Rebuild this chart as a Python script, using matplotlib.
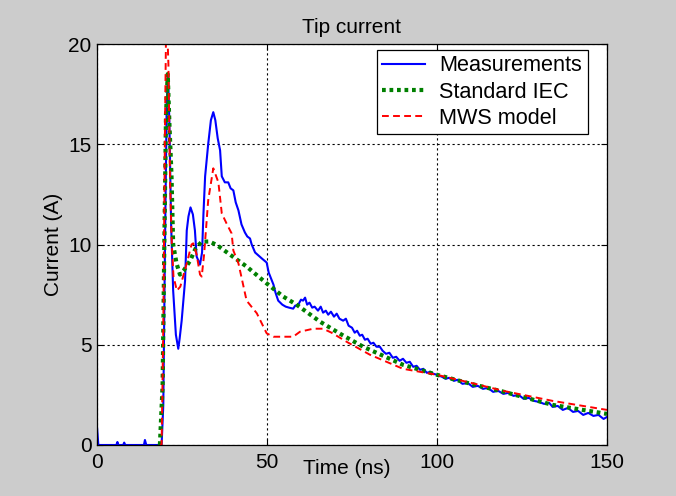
import matplotlib
matplotlib.use("Agg")
import matplotlib.pyplot as plt

# Tip current

# Measurements (ns, A)
t_meas = [0, 0.4, 5.7, 6, 6.3, 7.7, 8, 8.3, 13.8, 14.1, 14.5, 19, 19.5, 20, 20.5, 20.9,
          21.3, 21.8, 22.4, 23.2, 23.9, 24.3, 24.9, 25.9, 26.4, 26.9, 27.5, 28.2, 28.8,
          29.3, 30.3, 30.9, 31.3, 31.8, 32.7, 33.5, 34.2, 34.8, 35.5, 36.2, 36.7, 37.6,
          38.6, 39.3, 40.1, 40.8, 41.6, 42.5, 43.5, 44.2, 45, 45.5, 46.5, 47.5, 48.5,
          49.9, 50.5, 51.2, 51.9, 52.5, 53.3, 54.5, 55.5, 56.5, 57.7, 58.3, 59.2, 60,
          60.6, 61.2, 61.8, 62.5, 63.3, 64, 65, 65.8, 66.5, 67.3, 68, 68.8, 69.7, 70.5,
          71.3, 72.4, 73.2, 74, 75, 75.8, 76.5, 77.3, 78, 78.8, 79.6, 80.5, 81.3, 82.2,
          83.2, 84, 85, 86, 87, 88, 89, 90, 91, 92, 93, 94, 95, 96, 97, 98, 99, 100,
          101.5, 102.5, 103.5, 105, 106, 107.5, 109, 110.5, 112, 113.5, 115, 116.5, 118,
          119.5, 121, 122.5, 124, 125.5, 127, 128.5, 130, 131.5, 133, 134, 135.5, 137,
          138.5, 140, 141.5, 143, 144.5, 146, 147.5, 149, 150]
i_meas = [0.9, 0, 0, 0.15, 0, 0, 0.12, 0, 0, 0.25, 0, 0, 2, 10, 17, 18.5,
          16, 11, 7.7, 5.5, 4.8, 5.3, 6.2, 8.2, 10.7, 11.4, 11.85, 11.5, 10.7,
          9.4, 9.0, 9.6, 11.5, 13.4, 15.0, 16.2, 16.6, 16.2, 15.3, 14.7, 13.4, 13.1,
          13.1, 12.8, 12.7, 12.1, 11.7, 11.0, 10.6, 10.4, 10.3, 10.0, 9.6, 9.45, 9.3,
          9.1, 8.6, 8.3, 8.0, 7.6, 7.2, 7.0, 6.9, 6.85, 6.8, 6.95, 7.0, 7.25,
          7.2, 7.35, 7.0, 7.1, 6.85, 6.9, 6.7, 6.9, 6.6, 6.7, 6.5, 6.65, 6.4, 6.55,
          6.3, 6.2, 6.3, 5.95, 5.85, 5.6, 5.7, 5.45, 5.5, 5.25, 5.3, 5.05, 5.1, 4.9,
          4.9, 4.7, 4.55, 4.6, 4.35, 4.4, 4.2, 4.3, 4.1, 4.15, 3.9, 3.95, 3.75, 3.8, 3.6, 3.65, 3.55, 3.5,
          3.4, 3.3, 3.35, 3.2, 3.25, 3.05, 3.1, 2.9, 2.95, 2.8, 2.85, 2.65, 2.7,
          2.55, 2.6, 2.45, 2.5, 2.3, 2.35, 2.2, 2.15, 2.05, 2.1, 1.9, 1.95, 1.75,
          1.85, 1.65, 1.7, 1.5, 1.6, 1.45, 1.5, 1.3, 1.4]

# Standard IEC
t_iec = [18.5, 19.3, 19.8, 20.3, 20.8, 21.3, 21.9, 22.4, 23.4, 24.4, 25.5, 27.4, 29,
         30.8, 33, 35.2, 38.6, 44, 49.9, 54.8, 58.7, 65.6, 72, 78.3, 90, 100, 110,
         119.5, 134, 150]
i_iec = [0, 3, 10, 16.5, 18.5, 16, 13.5, 10, 9.05, 8.5, 8.7, 9.2, 9.8,
         10.14, 10.15, 9.98, 9.56, 8.9, 8.06, 7.4, 7.0, 6.15, 5.5, 4.9, 4.0, 3.5, 3.05,
         2.66, 2.0, 1.55]

# MWS model
t_mws = [18.5, 19, 19.5, 20, 20.4, 21, 21.5, 22, 22.5, 23.5, 24.5, 26.4, 27.8, 28.3,
         29.3, 30.3, 30.8, 31.5, 32.7, 34.2, 35.7, 36.7, 38.1, 39.6, 40.1, 41.6, 44,
         47, 49.9, 51.9, 57.7, 59.7, 63.6, 66.5, 69, 73.4, 80.3, 90, 100, 110, 119.5,
         134, 150]
i_mws = [0, 0, 6, 16, 22, 19, 13, 10, 8.4, 7.7, 7.9, 9.06, 10.0, 10.06,
         9.5, 8.5, 8.4, 9.5, 12.2, 13.8, 13.1, 11.55, 11.05, 10.55, 9.7, 9.06, 7.2,
         6.57, 5.57, 5.4, 5.4, 5.65, 5.8, 5.8, 5.6, 5.15, 4.5, 3.8, 3.5, 3.1, 2.7,
         2.2, 1.75]

x_ticks = [0, 50, 100, 150]
y_ticks = [0, 5, 10, 15, 20]

plt.rcParams['font.family'] = ['Liberation Sans', 'DejaVu Sans']

fig = plt.figure(figsize=(6.76, 4.96), dpi=100)
fig.patch.set_facecolor('#cccccc')
ax = fig.add_axes([97 / 676, 1 - 445 / 496, 510 / 676, 401 / 496])
ax.set_facecolor('white')

ax.plot(t_meas, i_meas, color='#0000ff', lw=1.5, label='Measurements')
ax.plot(t_iec, i_iec, color='#008000', lw=3, linestyle=(0, (0.9, 0.9)),
        label='Standard IEC')
ax.plot(t_mws, i_mws, color='#ff0000', lw=1.4, linestyle=(0, (3.5, 2.2)),
        label='MWS model')

ax.set_xlim(0, 150)
ax.set_ylim(0, 20)
ax.set_xticks(x_ticks)
ax.set_yticks(y_ticks)
ax.tick_params(direction='in', length=4, width=0.8, labelsize=15, pad=4,
               top=True, right=True, colors='black')
ax.tick_params(axis='x', pad=5.5)
ax.grid(True, color='black', linestyle=(0, (2, 2.5)), lw=0.8)
for s in ax.spines.values():
    s.set_linewidth(0.9)

ax.set_title('Tip current', fontsize=15, pad=8)
ax.set_xlabel('Time (ns)', fontsize=15)
ax.set_ylabel('Current (A)', fontsize=15)
ax.xaxis.set_label_coords(0.49, -0.035)
ax.yaxis.set_label_coords(-0.066, 0.5)

leg = ax.legend(loc='upper right', bbox_to_anchor=(0.962, 0.985), borderaxespad=0,
                fontsize=15.6, fancybox=False, framealpha=1, edgecolor='black',
                handlelength=1.94, labelspacing=0.24, borderpad=0.25, handletextpad=0.69)
leg.get_frame().set_linewidth(0.9)

fig.savefig('out.png', dpi=100, facecolor=fig.get_facecolor())
